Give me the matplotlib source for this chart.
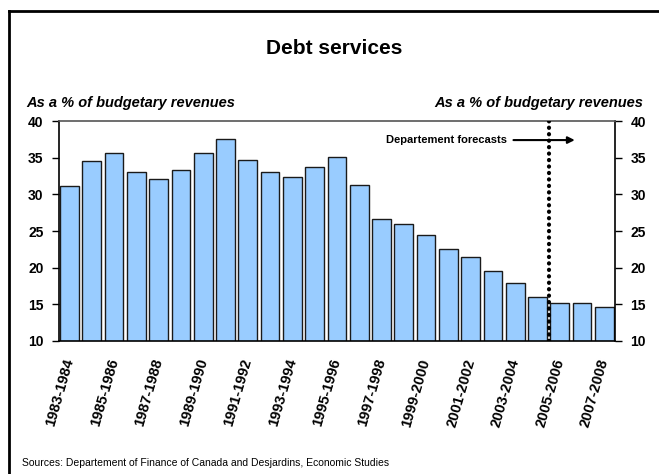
import numpy as np
import matplotlib
matplotlib.use('Agg')
import matplotlib.pyplot as plt
from matplotlib.lines import Line2D

plt.rcParams['font.family'] = ['Liberation Sans', 'DejaVu Sans']

# fiscal years, one bar each
years = ['1983-1984', '1984-1985', '1985-1986', '1986-1987', '1987-1988',
         '1988-1989', '1989-1990', '1990-1991', '1991-1992', '1992-1993',
         '1993-1994', '1994-1995', '1995-1996', '1996-1997', '1997-1998',
         '1998-1999', '1999-2000', '2000-2001', '2001-2002', '2002-2003',
         '2003-2004', '2004-2005', '2005-2006', '2006-2007', '2007-2008']
# debt services, % of budgetary revenues
debt = [31.2, 34.5, 35.6, 33.0, 32.1, 33.3, 35.6, 37.5, 34.7, 33.1,
        32.3, 33.7, 35.1, 31.3, 26.7, 26.0, 24.5, 22.6, 21.4, 19.5,
        17.9, 16.0, 15.2, 15.2, 14.7]
first_forecast = '2005-2006'
yticks = [10, 15, 20, 25, 30, 35, 40]

fig = plt.figure(figsize=(6.59, 4.74), dpi=100)
ax = fig.add_axes([0.0895, 0.2806, 0.8437, 0.4641])

x = np.arange(len(years))
ax.bar(x, debt, width=0.84, color='#99CCFF', edgecolor='#1a1a1a', linewidth=1.0, zorder=2)

ax.set_xlim(-0.47, len(years) - 0.52)
ax.set_ylim(10, 40)
ax.set_yticks(yticks)
ax.tick_params(axis='y', direction='out', length=5, width=1, left=True, right=True,
               labelleft=True, labelright=True, pad=6, labelsize=10)
for lab in ax.get_yticklabels():
    lab.set_fontweight('bold')

ax.set_xticks(x[::2])
ax.set_xticklabels(years[::2], rotation=74, ha='right', va='center',
                   rotation_mode='anchor', fontsize=10.5, fontweight='bold')
ax.tick_params(axis='x', length=0, pad=13)

for s in ['left', 'right', 'bottom']:
    ax.spines[s].set_linewidth(1.2)
    ax.spines[s].set_color('black')
ax.spines['top'].set_color('#555555')
ax.spines['top'].set_linewidth(1.2)

# forecast separator
xf = years.index(first_forecast) - 0.5
ax.plot([xf, xf], [10, 40], color='black', linestyle=(0, (0.05, 1.5)),
        linewidth=3, zorder=4, dash_capstyle='round')
ax.annotate('', xy=(22.8, 37.4), xytext=(19.8, 37.4),
            arrowprops=dict(arrowstyle='-|>', color='black', lw=1.5,
                            mutation_scale=10), zorder=5)
ax.text(19.65, 37.4, 'Departement forecasts', ha='right', va='center',
        fontsize=8, fontweight='bold', zorder=5)

fig.text(334 / 659, 1 - 48 / 474, 'Debt services', ha='center', va='center',
         fontsize=15, fontweight='bold')
fig.text(26 / 659, 1 - 103 / 474, 'As a % of budgetary revenues', ha='left',
         va='center', fontsize=10.5, fontweight='bold', style='italic')
fig.text(643 / 659, 1 - 103 / 474, 'As a % of budgetary revenues', ha='right',
         va='center', fontsize=10.5, fontweight='bold', style='italic')
fig.text(22 / 659, 1 - 463 / 474,
         'Sources: Departement of Finance of Canada and Desjardins, Economic Studies',
         ha='left', va='center', fontsize=7.5)

# outer frame (left and top edges)
fx = 8.5 / 659
fy = 1 - 10.5 / 474
fig.add_artist(Line2D([fx, fx], [0, fy], transform=fig.transFigure, color='black', lw=2))
fig.add_artist(Line2D([fx, 1], [fy, fy], transform=fig.transFigure, color='black', lw=2))

fig.savefig('out.png', dpi=100)
